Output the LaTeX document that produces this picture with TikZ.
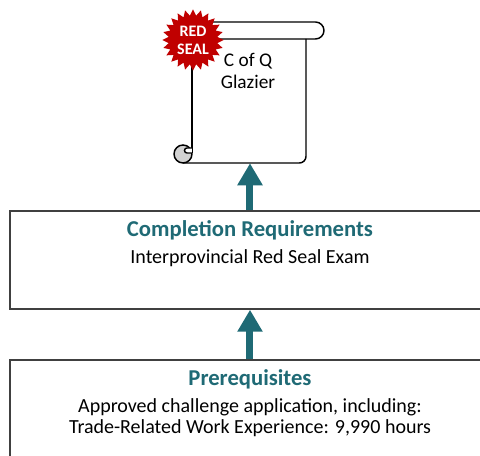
\documentclass[tikz,border=0pt]{standalone}
\usepackage{fontspec}
\setmainfont{Carlito}
\usepackage{tikz}
\usetikzlibrary{arrows.meta,shapes.geometric}
\definecolor{tealdark}{RGB}{31,106,117}
\definecolor{sealred}{RGB}{192,0,0}
\definecolor{boxgray}{RGB}{64,64,64}
\definecolor{curlgray}{RGB}{210,210,210}

\begin{document}
\begin{tikzpicture}[x=0.75pt,y=-0.75pt]
      \tikzset { box/.style = { shape=rectangle,draw=boxgray,line width=1.1pt,fill=white,minimum width=360pt,inner sep=0pt } }
      \tikzset { uparrow/.style = { -{Triangle[width=18pt,length=16.5pt]},draw=tealdark,line width=5.25pt } }
      \tikzset { head/.style = { font=\fontsize{17}{19}\selectfont\bfseries,text=tealdark,inner sep=0pt } }
      \tikzset { body/.style = { font=\fontsize{15}{15.75}\selectfont,align=center,inner sep=0pt } }
      \tikzset { seal/.style = { star,star points=24,star point ratio=1.25,fill=sealred,minimum size=46pt,inner sep=0pt,text=white,font=\fontsize{12}{13.5}\selectfont\bfseries,align=center } }
      \tikzset { scrollline/.style = { draw=black,line width=1.1pt } }

      \useasboundingbox (0,0) rectangle (480,456);
      \clip (0,0) rectangle (480,456);

      % boxes
      \node[box,minimum height=73.5pt] (compl) at (250,260) {};
      \node[box,minimum height=82.5pt] (prereq) at (250,415) {};

      \node[head] (compltitle) at (250,230) {Completion Requirements};
      \node[body] (compltext) at (250,258) {Interprovincial Red Seal Exam};
      \node[head] (prereqtitle) at (250,379) {Prerequisites};
      \node[body] (prereqtext) at (250,418) {Approved challenge application, including:\\Trade-Related Work Experience: 9,990 hours};

      % scroll
      \node[minimum width=85.5pt,minimum height=93pt,inner sep=0pt] (cert) at (249,101) {};
      \fill[white] (192,39) rectangle (306,163);
      \draw[scrollline,fill=white] (186,22) -- (315.5,22) arc[start angle=270,end angle=450,radius=8.5] -- (186,39) -- cycle;
      \draw[scrollline] (192,39) -- (192,153);
      \draw[scrollline,rounded corners=5] (183,163) -- (306,163) -- (306,39);
      \filldraw[scrollline,fill=curlgray] (183,154) circle (9);
      \filldraw[scrollline,fill=white] (192,153) -- (187,153) arc[start angle=90,end angle=270,radius=2.5] -- (192,148);
      \node[body,font=\fontsize{14.5}{16.5}\selectfont] (certtext) at (248,71) {C of Q\\Glazier};
      \node[seal] (redseal) at (193,40) {RED\\SEAL};

      \draw[uparrow] (compl.north) -- (compl.north |- cert.south);
      \draw[uparrow] (prereq.north) -- (compl.south);

    \end{tikzpicture}
\end{document}
